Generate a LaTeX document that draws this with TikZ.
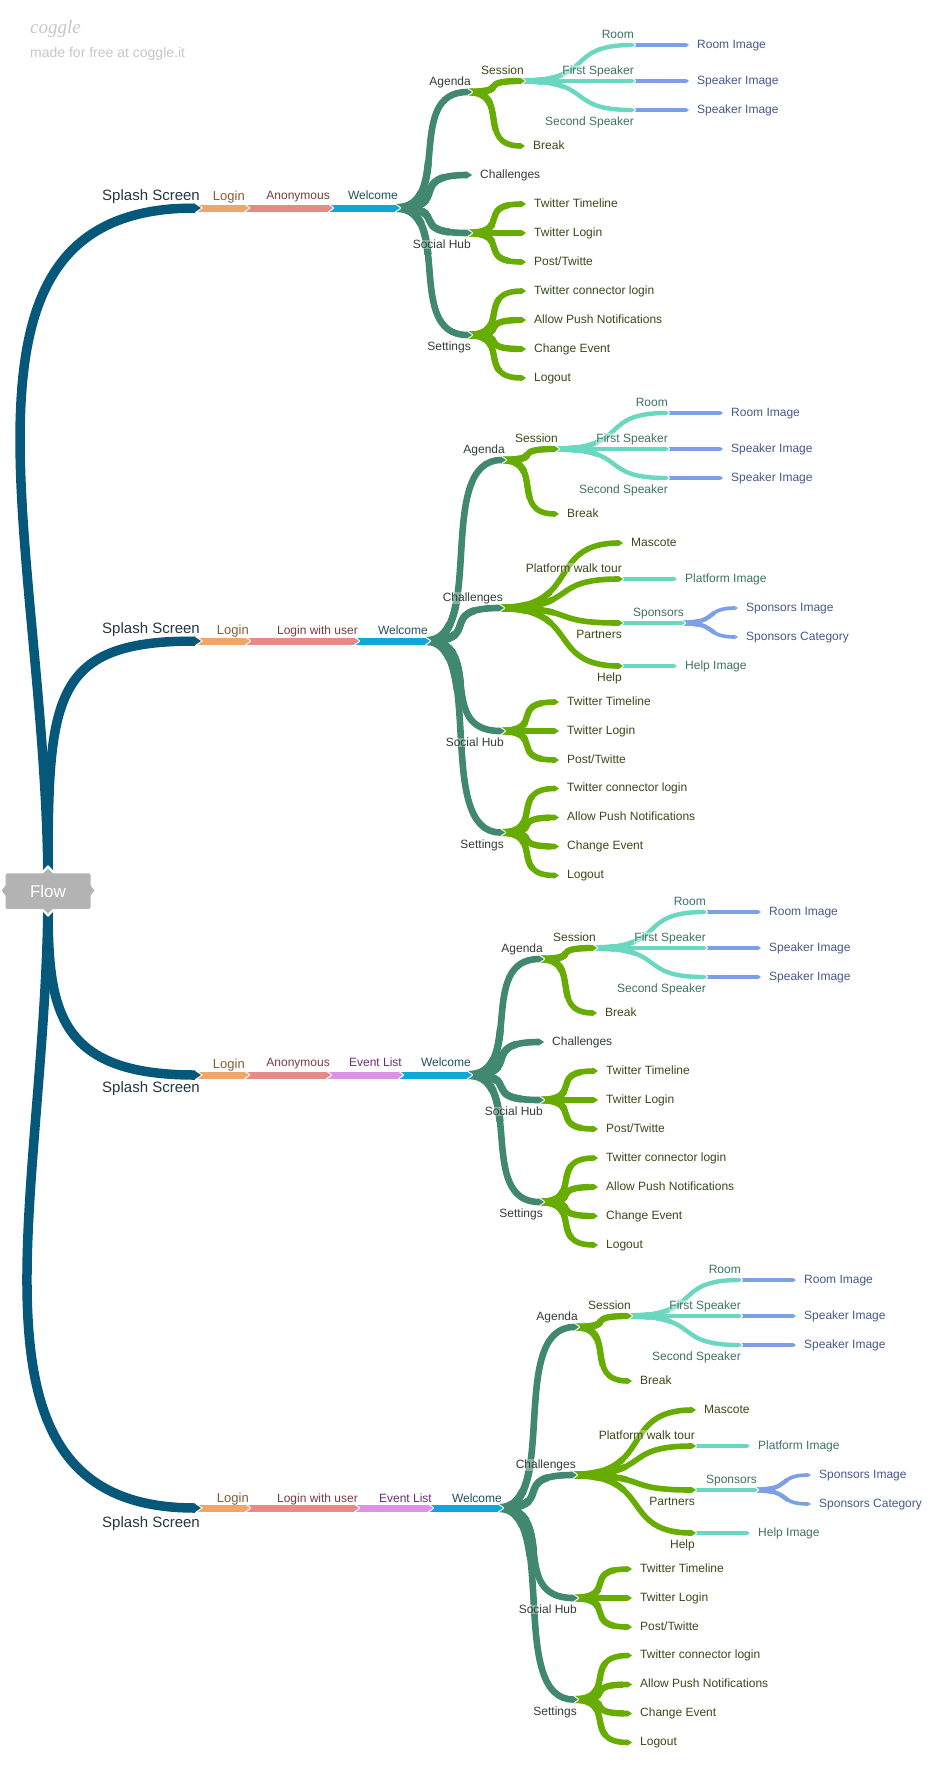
\documentclass[tikz,border=0pt]{standalone}
\usepackage{fontspec}
\setmainfont{Liberation Sans}
\newfontfamily\logofont{Liberation Serif}
\usetikzlibrary{calc}
\definecolor{cRoot}{HTML}{05587A}
\definecolor{cLogin}{HTML}{F0A668}
\definecolor{cPink}{HTML}{E58A84}
\definecolor{cWel}{HTML}{0FA8D6}
\definecolor{cEvt}{HTML}{DD92E6}
\definecolor{cHub}{HTML}{40886F}
\definecolor{cGreen}{HTML}{67AC00}
\definecolor{cTeal}{HTML}{6AD8C0}
\definecolor{cBlue}{HTML}{7BA0E6}
\definecolor{cGray}{HTML}{B3B3B3}
\definecolor{tRoot}{HTML}{26363F}
\definecolor{tLogin}{HTML}{8A5A35}
\definecolor{tPink}{HTML}{7C3A42}
\definecolor{tWel}{HTML}{1F5060}
\definecolor{tEvt}{HTML}{6E2A7C}
\definecolor{tHub}{HTML}{333D38}
\definecolor{tGreen}{HTML}{3A4A1A}
\definecolor{tTeal}{HTML}{3E7263}
\definecolor{tBlue}{HTML}{46598C}
\tikzset{
  lab/.style={inner sep=0pt,fill=white,fill opacity=.35,text opacity=1,font=\fontsize{12}{14}\selectfont},
  labL/.style={lab,anchor=mid east},
  labR/.style={lab,anchor=mid west},
  labHub/.style={text=tHub},
  labGreen/.style={text=tGreen},
  labTeal/.style={text=tTeal},
  labBlue/.style={text=tBlue},
  labSplash/.style={labL,text=tRoot,font=\fontsize{15}{17}\selectfont},
}
\def\ca{0.75}\def\cb{0.05}
\newcommand\bandpath[3]{% from, to, width
  let \p1=(#1),\p2=(#2),\n1={\x2-\x1} in
    (\x1-4pt,\y1) .. controls (\x1+\ca*\n1,\y1) and (\x1+\cb*\n1,\y2) .. (\x2-0.7*#3pt,\y2)}
% straight edge of constant width: from, to, colour, width
\newcommand\flatedge[4]{%
  \filldraw[white,line width=2.2pt,line join=round] let \p2=(#2) in
    (\x2-0.7*#4pt,\y2+0.5*#4pt) -- (\x2,\y2) -- (\x2-0.7*#4pt,\y2-0.5*#4pt) -- cycle;
  \draw[#3,line width=#4pt] \bandpath{#1}{#2}{#4};
  \fill[#3] let \p2=(#2) in
    (\x2-0.7*#4pt-0.2pt,\y2+0.5*#4pt) -- (\x2,\y2) -- (\x2-0.7*#4pt-0.2pt,\y2-0.5*#4pt) -- cycle;
}
% curved edge: from, to, colour, width (the width tapers from the start of the edge to its tip)
\newcommand\edge[4]{%
  \pgfmathsetmacro\wa{#4-0.4}\pgfmathsetmacro\wb{#4+0.3}\pgfmathsetmacro\wc{#4+1}%
  \pgfmathsetmacro\la{9*#4}\pgfmathsetmacro\lb{4.5*#4}%
  \filldraw[white,line width=2.2pt,line join=round] let \p2=(#2) in
    (\x2-0.7*\wa pt,\y2+0.5*\wa pt) -- (\x2,\y2) -- (\x2-0.7*\wa pt,\y2-0.5*\wa pt) -- cycle;
  \draw[#3,line width=\wa pt] \bandpath{#1}{#2}{\wa};
  \draw[#3,line width=\wb pt,dash pattern=on \la pt off 3000pt] \bandpath{#1}{#2}{\wa};
  \draw[#3,line width=\wc pt,dash pattern=on \lb pt off 3000pt] \bandpath{#1}{#2}{\wa};
  \fill[#3] let \p2=(#2) in
    (\x2-0.7*\wa pt-0.2pt,\y2+0.5*\wa pt) -- (\x2,\y2) -- (\x2-0.7*\wa pt-0.2pt,\y2-0.5*\wa pt) -- cycle;
}
\newcommand\softedge[4]{{\def\ca{0.65}\def\cb{0.35}\edge{#1}{#2}{#3}{#4}}}
\newcommand\at[4]{\coordinate (#1) at ([shift={(#3,#4)}]#2);}
\newcommand\leaflab[3]{\node[labR,#2] (#1-l) at ([shift={(8,0.5)}]#1) {#3};}
\newcommand\uplab[4][-9.5]{\node[labL,#2] (#3-l) at ([shift={(-1,#1)}]#3) {#4};}
% agenda + social hub + settings, hanging off #1-hub
\newcommand\common[1]{%
  \at{#1-ag}{#1-hub}{\agx}{\agy}
  \at{#1-so}{#1-hub}{\sox}{\soy}
  \at{#1-se}{#1-hub}{\sox}{\sey}
  \at{#1-sess}{#1-ag}{53}{-11}
  \at{#1-br}{#1-ag}{53}{54}
  \at{#1-room}{#1-sess}{110}{-36}
  \at{#1-fs}{#1-sess}{110}{0}
  \at{#1-ss}{#1-sess}{110}{29}
  \at{#1-ri}{#1-room}{54}{0}
  \at{#1-si}{#1-fs}{54}{0}
  \at{#1-sj}{#1-ss}{54}{0}
  \at{#1-tt}{#1-so}{54}{-29}
  \at{#1-tl}{#1-so}{54}{0}
  \at{#1-pt}{#1-so}{54}{29}
  \at{#1-cl}{#1-se}{54}{-44}
  \at{#1-ap}{#1-se}{54}{-15}
  \at{#1-ce}{#1-se}{54}{14}
  \at{#1-lg}{#1-se}{54}{43}
  \flatedge{#1-room}{#1-ri}{cBlue}{4}
  \flatedge{#1-fs}{#1-si}{cBlue}{4}
  \flatedge{#1-ss}{#1-sj}{cBlue}{4}
  \softedge{#1-sess}{#1-room}{cTeal}{4.8}
  \flatedge{#1-sess}{#1-fs}{cTeal}{4.8}
  \softedge{#1-sess}{#1-ss}{cTeal}{4.8}
  \edge{#1-ag}{#1-sess}{cGreen}{6}
  \edge{#1-ag}{#1-br}{cGreen}{6}
  \edge{#1-so}{#1-tt}{cGreen}{6}
  \flatedge{#1-so}{#1-tl}{cGreen}{6}
  \edge{#1-so}{#1-pt}{cGreen}{6}
  \edge{#1-se}{#1-cl}{cGreen}{6}
  \edge{#1-se}{#1-ap}{cGreen}{6}
  \edge{#1-se}{#1-ce}{cGreen}{6}
  \edge{#1-se}{#1-lg}{cGreen}{6}
  \edge{#1-hub}{#1-ag}{cHub}{7}
  \edge{#1-hub}{#1-so}{cHub}{7}
  \edge{#1-hub}{#1-se}{cHub}{7}
}
\newcommand\commonlabels[1]{%
  \uplab{labHub}{#1-ag}{Agenda}
  \uplab{labGreen}{#1-sess}{Session}
  \uplab{labTeal}{#1-room}{Room}
  \uplab{labTeal}{#1-fs}{First Speaker}
  \uplab[13]{labTeal}{#1-ss}{Second Speaker}
  \leaflab{#1-ri}{labBlue}{Room Image}
  \leaflab{#1-si}{labBlue}{Speaker Image}
  \leaflab{#1-sj}{labBlue}{Speaker Image}
  \leaflab{#1-br}{labGreen}{Break}
  \uplab[13]{labHub}{#1-so}{Social Hub}
  \uplab[13]{labHub}{#1-se}{Settings}
  \leaflab{#1-tt}{labGreen}{Twitter Timeline}
  \leaflab{#1-tl}{labGreen}{Twitter Login}
  \leaflab{#1-pt}{labGreen}{Post/Twitte}
  \leaflab{#1-cl}{labGreen}{Twitter connector login}
  \leaflab{#1-ap}{labGreen}{Allow Push Notifications}
  \leaflab{#1-ce}{labGreen}{Change Event}
  \leaflab{#1-lg}{labGreen}{Logout}
}
% tree with a plain Challenges leaf
\newcommand\plaintree[1]{%
  \def\agx{72}\def\sox{72}\def\agy{-116}\def\soy{25}\def\sey{127}
  \common{#1}
  \at{#1-ch}{#1-hub}{72}{-33}
  \edge{#1-hub}{#1-ch}{cHub}{7}
}
\newcommand\plainlabels[1]{%
  \commonlabels{#1}
  \leaflab{#1-ch}{labHub}{Challenges}
}
% tree with an expanded Challenges branch
\newcommand\bigtree[1]{%
  \def\agx{76}\def\sox{75}\def\agy{-181}\def\soy{90}\def\sey{191.5}
  \common{#1}
  \at{#1-ch}{#1-hub}{74}{-33}
  \at{#1-ma}{#1-ch}{119}{-65}
  \at{#1-pw}{#1-ch}{119}{-29}
  \at{#1-pa}{#1-ch}{119}{15}
  \at{#1-he}{#1-ch}{119}{58}
  \at{#1-pi}{#1-pw}{54}{0}
  \at{#1-sp}{#1-pa}{62}{0}
  \at{#1-hi}{#1-he}{54}{0}
  \at{#1-spi}{#1-sp}{53}{-15}
  \at{#1-spc}{#1-sp}{53}{14}
  \softedge{#1-sp}{#1-spi}{cBlue}{4}
  \softedge{#1-sp}{#1-spc}{cBlue}{4}
  \flatedge{#1-pw}{#1-pi}{cTeal}{4.8}
  \flatedge{#1-pa}{#1-sp}{cTeal}{4.8}
  \flatedge{#1-he}{#1-hi}{cTeal}{4.8}
  \softedge{#1-ch}{#1-ma}{cGreen}{6}
  \softedge{#1-ch}{#1-pw}{cGreen}{6}
  \softedge{#1-ch}{#1-pa}{cGreen}{6}
  \softedge{#1-ch}{#1-he}{cGreen}{6}
  \edge{#1-hub}{#1-ch}{cHub}{7}
}
\newcommand\biglabels[1]{%
  \commonlabels{#1}
  \uplab{labHub}{#1-ch}{Challenges}
  \leaflab{#1-ma}{labGreen}{Mascote}
  \uplab{labGreen}{#1-pw}{Platform walk tour}
  \uplab[13]{labGreen}{#1-pa}{Partners}
  \uplab[13]{labGreen}{#1-he}{Help}
  \leaflab{#1-pi}{labTeal}{Platform Image}
  \uplab{labTeal}{#1-sp}{Sponsors}
  \leaflab{#1-hi}{labTeal}{Help Image}
  \leaflab{#1-spi}{labBlue}{Sponsors Image}
  \leaflab{#1-spc}{labBlue}{Sponsors Category}
}
\begin{document}
\begin{tikzpicture}[x=1pt,y=-1pt]
\useasboundingbox (0,0) rectangle (950,1785);
\fill[white] (0,0) rectangle (950,1785);
\coordinate (flow-c) at (48,890);
% tree 1
\coordinate (a-s) at (201,208);
\coordinate (a-log) at (249,208);
\coordinate (a-an) at (333,208);
\coordinate (a-hub) at (400,208);
\plaintree{a}
\flatedge{a-an}{a-hub}{cWel}{7}
\flatedge{a-log}{a-an}{cPink}{7}
\flatedge{a-s}{a-log}{cLogin}{7}
% tree 2
\coordinate (b-s) at (201,641);
\coordinate (b-log) at (250,641);
\coordinate (b-us) at (359,641);
\coordinate (b-hub) at (430,641);
\bigtree{b}
\flatedge{b-us}{b-hub}{cWel}{7}
\flatedge{b-log}{b-us}{cPink}{7}
\flatedge{b-s}{b-log}{cLogin}{7}
% tree 3
\coordinate (c-s) at (201,1075);
\coordinate (c-log) at (249,1075);
\coordinate (c-an) at (331,1075);
\coordinate (c-ev) at (403,1075);
\coordinate (c-hub) at (472,1075);
\plaintree{c}
\flatedge{c-ev}{c-hub}{cWel}{7}
\flatedge{c-an}{c-ev}{cEvt}{7}
\flatedge{c-log}{c-an}{cPink}{7}
\flatedge{c-s}{c-log}{cLogin}{7}
% tree 4
\coordinate (d-s) at (201,1508);
\coordinate (d-log) at (250,1508);
\coordinate (d-us) at (359,1508);
\coordinate (d-ev) at (433,1508);
\coordinate (d-hub) at (503,1508);
\bigtree{d}
\flatedge{d-ev}{d-hub}{cWel}{7}
\flatedge{d-us}{d-ev}{cEvt}{7}
\flatedge{d-log}{d-us}{cPink}{7}
\flatedge{d-s}{d-log}{cLogin}{7}
% root branches
\filldraw[white,line width=2.2pt] (a-s)+(-7,5) -- (a-s) -- +(-7,-5) -- cycle;
\filldraw[white,line width=2.2pt] (b-s)+(-7,5) -- (b-s) -- +(-7,-5) -- cycle;
\filldraw[white,line width=2.2pt] (c-s)+(-7,5) -- (c-s) -- +(-7,-5) -- cycle;
\filldraw[white,line width=2.2pt] (d-s)+(-7,5) -- (d-s) -- +(-7,-5) -- cycle;
\begin{scope}[cRoot,line width=9.5pt]
\draw (flow-c) .. controls ([shift={(0,-340)}]flow-c) and ([shift={(-276,0)}]a-s) .. ([shift={(-6,0)}]a-s);
\draw (flow-c) .. controls ([shift={(0,-190)}]flow-c) and ([shift={(-153,0)}]b-s) .. ([shift={(-6,0)}]b-s);
\draw (flow-c) .. controls ([shift={(0,110)}]flow-c) and ([shift={(-153,0)}]c-s) .. ([shift={(-6,0)}]c-s);
\draw (flow-c) .. controls ([shift={(0,308)}]flow-c) and ([shift={(-256,0)}]d-s) .. ([shift={(-6,0)}]d-s);
\end{scope}
\fill[cRoot] (a-s)+(-7,4.75) -- (a-s) -- +(-7,-4.75) -- cycle;
\fill[cRoot] (b-s)+(-7,4.75) -- (b-s) -- +(-7,-4.75) -- cycle;
\fill[cRoot] (c-s)+(-7,4.75) -- (c-s) -- +(-7,-4.75) -- cycle;
\fill[cRoot] (d-s)+(-7,4.75) -- (d-s) -- +(-7,-4.75) -- cycle;
% Flow box
\filldraw[white,line width=2.2pt,line join=round] (42,873) -- (48,866.5) -- (54,873) -- cycle;
\filldraw[white,line width=2.2pt,line join=round] (42,909) -- (48,915.5) -- (54,909) -- cycle;
\fill[cGray] (42.5,874) -- (48,868.5) -- (53.5,874) -- cycle;
\fill[cGray] (42.5,908) -- (48,913.5) -- (53.5,908) -- cycle;
\fill[cGray] (6,885) -- (1.5,890.5) -- (6,896) -- cycle;
\fill[cGray] (90,885) -- (94.5,890.5) -- (90,896) -- cycle;
\node[fill=cGray,rounded corners=1.5pt,minimum width=85pt,minimum height=35.5pt,inner sep=0pt,text=white,font=\fontsize{17}{19}\selectfont] (flow) at (48,891) {Flow};
% labels
\node[labSplash] (a-s-l) at (200,198) {Splash Screen};
\node[labSplash] (b-s-l) at (200,631) {Splash Screen};
\node[labSplash] (c-s-l) at (200,1090) {Splash Screen};
\node[labSplash] (d-s-l) at (200,1525) {Splash Screen};
\tikzset{loginlab/.style={labL,text=tLogin,font=\fontsize{13}{15}\selectfont},
  pinklab/.style={labL,text=tPink},evtlab/.style={labL,text=tEvt},wellab/.style={labL,text=tWel}}
\node[loginlab] (a-log-l) at (245,198) {Login};
\node[pinklab] (a-an-l) at (330,197) {Anonymous};
\node[wellab] (a-hub-l) at (398,197) {Welcome};
\node[loginlab] (b-log-l) at (249,632) {Login};
\node[pinklab] (b-us-l) at (358,632) {Login with user};
\node[wellab] (b-hub-l) at (428,632) {Welcome};
\node[loginlab] (c-log-l) at (245,1066) {Login};
\node[pinklab] (c-an-l) at (330,1064) {Anonymous};
\node[evtlab] (c-ev-l) at (402,1064) {Event List};
\node[wellab] (c-hub-l) at (471,1064) {Welcome};
\node[loginlab] (d-log-l) at (249,1500) {Login};
\node[pinklab] (d-us-l) at (358,1500) {Login with user};
\node[evtlab] (d-ev-l) at (432,1500) {Event List};
\node[wellab] (d-hub-l) at (502,1500) {Welcome};
\plainlabels{a}
\biglabels{b}
\plainlabels{c}
\biglabels{d}
% watermark
\node[anchor=mid west,inner sep=0pt,text=black!22,font=\logofont\itshape\fontsize{19}{21}\selectfont] (logo) at (30,31) {coggle};
\node[anchor=mid west,inner sep=0pt,text=black!22,font=\fontsize{14}{16}\selectfont] (madefor) at (30,55) {made for free at coggle.it};
\end{tikzpicture}
\end{document}
